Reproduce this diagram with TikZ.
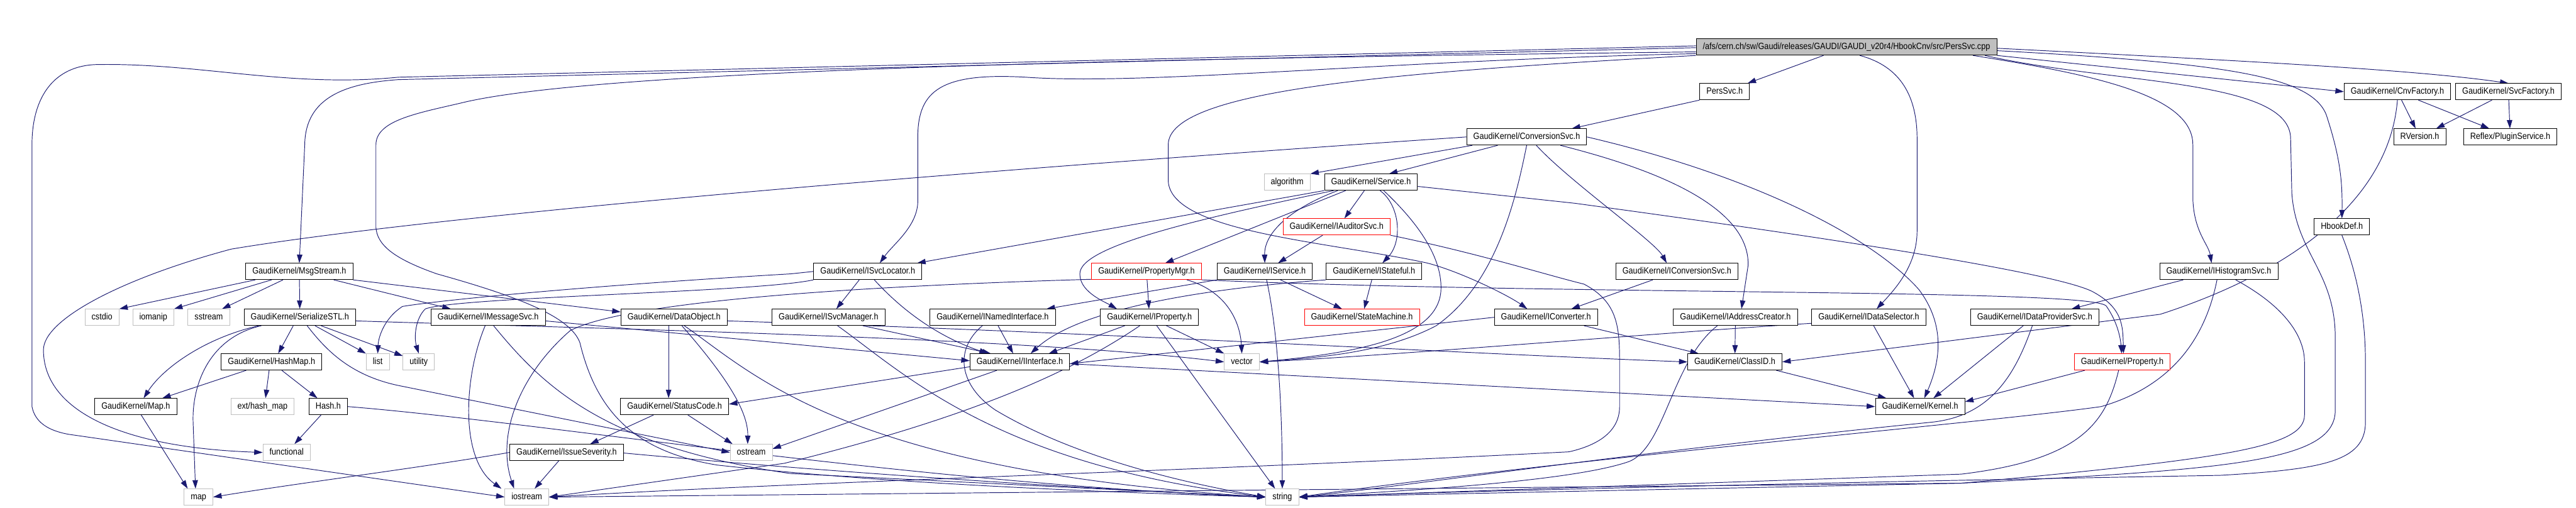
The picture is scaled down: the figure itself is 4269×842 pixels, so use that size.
\documentclass[tikz,border=0pt]{standalone}
\usepackage{fontspec}
\setmainfont[FakeStretch=0.88]{Liberation Sans}
\usetikzlibrary{arrows.meta}
\definecolor{edgeblue}{HTML}{191970}
\definecolor{sysgray}{HTML}{BFBFBF}
\definecolor{rootgray}{HTML}{BFBFBF}
\pgfdeclarelayer{edges}
\pgfsetlayers{edges,main}

\begin{document}
\begin{tikzpicture}[x=1pt, y=-1pt,
  hfile/.style={draw=black, fill=white, line width=0.9pt, minimum height=27pt, inner xsep=11pt, inner ysep=0pt,
    text height=11pt, text depth=3.2pt, font=\fontsize{15}{17}\selectfont},
  sysfile/.style={hfile, draw=sysgray},
  trunc/.style={hfile, draw=red},
  rootfile/.style={hfile, fill=rootgray},
  dep/.style={-{Triangle[length=14pt,width=9pt]}, draw=edgeblue, line width=1pt}]
\useasboundingbox (0,0) rectangle (4269,842);
% row 0
\node[rootfile] (root) at (3060,78) {/afs/cern.ch/sw/Gaudi/releases/GAUDI/GAUDI\_v20r4/HbookCnv/src/PersSvc.cpp};
% row 1
\node[hfile] (perssvch) at (2858,152) {PersSvc.h};
\node[hfile] (cnvfac) at (3973,152) {GaudiKernel/CnvFactory.h};
\node[hfile] (svcfac) at (4157,152) {GaudiKernel/SvcFactory.h};
% row 2
\node[hfile] (convsvc) at (2530,227) {GaudiKernel/ConversionSvc.h};
\node[hfile] (rversion) at (4010,227) {RVersion.h};
\node[hfile] (plugin) at (4160,227) {Reflex/PluginService.h};
% row 3
\node[sysfile] (algorithm) at (2133,302) {algorithm};
\node[hfile] (service) at (2272,302) {GaudiKernel/Service.h};
% row 4
\node[trunc] (iauditor) at (2215,376) {GaudiKernel/IAuditorSvc.h};
\node[hfile] (hbookdef) at (3881,376) {HbookDef.h};
% row 5
\node[hfile] (msgstream) at (496,450) {GaudiKernel/MsgStream.h};
\node[hfile] (isvcloc) at (1438,450) {GaudiKernel/ISvcLocator.h};
\node[trunc] (propmgr) at (1900,450) {GaudiKernel/PropertyMgr.h};
\node[hfile] (iservice) at (2096,450) {GaudiKernel/IService.h};
\node[hfile] (istateful) at (2277,450) {GaudiKernel/IStateful.h};
\node[hfile] (iconvsvc) at (2779,450) {GaudiKernel/IConversionSvc.h};
\node[hfile] (ihistsvc) at (3677,450) {GaudiKernel/IHistogramSvc.h};
% row 6
\node[sysfile] (cstdio) at (169,526) {cstdio};
\node[sysfile] (iomanip) at (254,526) {iomanip};
\node[sysfile] (sstream) at (346,526) {sstream};
\node[hfile] (serialize) at (497,526) {GaudiKernel/SerializeSTL.h};
\node[hfile] (imsgsvc) at (809,526) {GaudiKernel/IMessageSvc.h};
\node[hfile] (dataobj) at (1117,526) {GaudiKernel/DataObject.h};
\node[hfile] (isvcmgr) at (1373,526) {GaudiKernel/ISvcManager.h};
\node[hfile] (inamed) at (1645,526) {GaudiKernel/INamedInterface.h};
\node[hfile] (iproperty) at (1905,526) {GaudiKernel/IProperty.h};
\node[trunc] (statemach) at (2257,526) {GaudiKernel/StateMachine.h};
\node[hfile] (iconverter) at (2562,526) {GaudiKernel/IConverter.h};
\node[hfile] (iaddr) at (2876,526) {GaudiKernel/IAddressCreator.h};
\node[hfile] (idatasel) at (3097,526) {GaudiKernel/IDataSelector.h};
\node[hfile] (idataprov) at (3372,526) {GaudiKernel/IDataProviderSvc.h};
% row 7
\node[hfile] (hashmap) at (450,600) {GaudiKernel/HashMap.h};
\node[sysfile] (list) at (626,600) {list};
\node[sysfile] (utility) at (694,600) {utility};
\node[hfile] (iinterface) at (1690,600) {GaudiKernel/IInterface.h};
\node[sysfile] (vector) at (2058,600) {vector};
\node[hfile] (classid) at (2875,600) {GaudiKernel/ClassID.h};
\node[trunc] (property) at (3517,600) {GaudiKernel/Property.h};
% row 8
\node[hfile] (maph) at (225,674) {GaudiKernel/Map.h};
\node[sysfile] (exthash) at (435,674) {ext/hash\_map};
\node[hfile] (hash) at (544,674) {Hash.h};
\node[hfile] (statuscode) at (1118,674) {GaudiKernel/StatusCode.h};
\node[hfile] (kernel) at (3182,674) {GaudiKernel/Kernel.h};
% row 9
\node[sysfile] (functional) at (475,750) {functional};
\node[hfile] (issue) at (939,750) {GaudiKernel/IssueSeverity.h};
\node[sysfile] (ostream) at (1245,750) {ostream};
% row 10
\node[sysfile] (map) at (329,824) {map};
\node[sysfile] (iostream) at (873,824) {iostream};
\node[sysfile] (string) at (2125,824) {string};

\begin{pgfonlayer}{edges}
% root
\draw[dep] (root) -- (perssvch);
\draw[dep] ([yshift=2pt]root.west) -- (660,128) .. controls (480,146) and (330,104) .. (160,107) .. controls (90,109) and (53,160) .. (53,240) -- (53,674) .. controls (58,700) and (80,714) .. (114,720) -- (iostream.west);
\draw[dep] ([yshift=-1pt]root.west) -- (660,132) .. controls (575,138) and (506,160) .. (505,240) -- (msgstream.north);
\draw[dep] ([yshift=-8pt]root.west) .. controls (2000,96) and (1000,112) .. (763,171) .. controls (690,188) and (623,200) .. (623,240) -- (623,377) .. controls (625,405) and (650,428) .. (724,454) .. controls (860,492) and (945,525) .. (961,568) .. controls (990,690) and (1060,750) .. (1189,771) .. controls (1500,805) and (1900,818) .. (string.west);
\draw[dep] ([yshift=-11pt]root.west) .. controls (2300,100) and (1900,142) .. (1700,128) .. controls (1560,120) and (1521,150) .. (1521,227) -- (1521,333) .. controls (1521,375) and (1480,405) .. ([xshift=20pt]isvcloc.north);
\draw[dep] (root.south west) .. controls (2300,120) and (1936,150) .. (1936,240) -- (1936,300) .. controls (1940,385) and (2200,400) .. (2365,436) .. controls (2420,450) and (2500,490) .. ([xshift=-31pt]iconverter.north);
\draw[dep] ([xshift=22pt]root.south) .. controls (3150,110) and (3177,160) .. (3177,230) -- (3177,383) .. controls (3177,440) and (3140,480) .. ([xshift=13pt]idatasel.north);
\draw[dep] ([xshift=-40pt]root.south east) .. controls (3480,125) and (3634,160) .. (3634,240) -- (3634,330) .. controls (3636,385) and (3660,405) .. ([xshift=-12pt]ihistsvc.north);
\draw[dep] ([xshift=-20pt]root.south east) .. controls (3500,140) and (3796,130) .. (3796,230) -- (3798,320) .. controls (3805,420) and (3870,450) .. (3870,560) -- (3870,680) .. controls (3870,765) and (3700,778) .. (3250,801) -- (string.east);
\draw[dep] (root.south east) -- (cnvfac.west);
\draw[dep] ([yshift=-6pt]root.east) .. controls (3700,105) and (3830,128) .. (3855,190) .. controls (3878,260) and (3882,300) .. (hbookdef.north);
\draw[dep] ([yshift=-2pt]root.east) .. controls (3700,100) and (4000,115) .. (svcfac.north);
% PersSvc.h
\draw[dep] (perssvch.south west) -- ([xshift=-25pt]convsvc.north east);
% factories
\draw[dep] (cnvfac) -- (rversion);
\draw[dep] (cnvfac) -- (plugin);
\draw[dep] (svcfac) -- (rversion);
\draw[dep] (svcfac) -- (plugin);
\draw[dep] (cnvfac.south) .. controls (3960,330) and (3800,450) .. (3580,521) -- (classid.east);
% ConversionSvc.h
\draw[dep] (convsvc.west) .. controls (1500,290) and (700,360) .. (383,413) .. controls (200,462) and (72,530) .. (72,580) .. controls (72,680) and (200,742) .. (functional.west);
\draw[dep] ([xshift=-90pt]convsvc.south) -- (algorithm.north east);
\draw[dep] ([xshift=-48pt]convsvc.south) -- ([xshift=30pt]service.north);
\draw[dep] (convsvc.south) .. controls (2512,330) and (2480,470) .. (2380,540) .. controls (2300,582) and (2200,592) .. (vector.east);
\draw[dep] ([xshift=16pt]convsvc.south) .. controls (2600,300) and (2742,400) .. ([xshift=-17pt]iconvsvc.north);
\draw[dep] ([xshift=56pt]convsvc.south) .. controls (2700,270) and (2900,330) .. (2897,440) -- ([xshift=10pt]iaddr.north);
\draw[dep] (convsvc.east) .. controls (2900,290) and (3100,390) .. (3180,480) .. controls (3225,540) and (3215,600) .. ([xshift=7pt]kernel.north);
% Service.h
\draw[dep] (service.south west) -- ([xshift=-8pt]isvcloc.north east);
\draw[dep] ([xshift=-62pt]service.south) .. controls (2000,360) and (1800,405) .. (1790,450) .. controls (1785,482) and (1830,500) .. ([xshift=-54pt]iproperty.north);
\draw[dep] ([xshift=-42pt]service.south) -- ([xshift=31pt]propmgr.north);
\draw[dep] ([xshift=-11pt]service.south) -- ([xshift=13pt]iauditor.north);
\draw[dep] ([xshift=-55pt]service.south) .. controls (2140,345) and (2095,385) .. (iservice.north);
\draw[dep] ([xshift=15pt]service.south) .. controls (2320,340) and (2325,400) .. ([xshift=14pt]istateful.north);
\draw[dep] ([xshift=21pt]service.south) .. controls (2340,360) and (2390,420) .. (2388,480) .. controls (2385,560) and (2250,585) .. (vector.east);
\draw[dep] ([yshift=-7pt]service.east) -- (2610,337) .. controls (3000,390) and (3400,450) .. (3467,483) .. controls (3518,510) and (3518,540) .. ([xshift=2pt]property.north);
% IAuditorSvc.h
\draw[dep] ([xshift=-23pt]iauditor.south) -- ([xshift=22pt]iservice.north);
\draw[dep] (iauditor.south east) .. controls (2450,420) and (2560,455) .. (2625,471) .. controls (2680,500) and (2684,540) .. (2684,600) -- (2684,674) .. controls (2684,720) and (2640,740) .. (2600,749) .. controls (2000,780) and (1300,800) .. (iostream.east);
% HbookDef.h
\draw[dep] (hbookdef.south) .. controls (3905,450) and (3920,520) .. (3920,600) -- (3920,700) .. controls (3920,765) and (3850,778) .. (3679,788) .. controls (3000,800) and (2400,815) .. (string.east);
% MsgStream.h
\draw[dep] ([xshift=-73pt]msgstream.south) -- (cstdio.north east);
\draw[dep] ([xshift=-46pt]msgstream.south) -- (iomanip.north east);
\draw[dep] ([xshift=-27pt]msgstream.south) -- ([xshift=22pt]sstream.north);
\draw[dep] (msgstream) -- (serialize);
\draw[dep] ([xshift=57pt]msgstream.south) -- ([xshift=-62pt]imsgsvc.north);
\draw[dep] (msgstream.south east) -- ([yshift=-5pt]dataobj.north west);
% ISvcLocator.h
\draw[dep] ([xshift=-14pt]isvcloc.south) -- ([xshift=13pt]isvcmgr.north);
\draw[dep] ([xshift=11pt]isvcloc.south) .. controls (1500,520) and (1560,560) .. ([xshift=-53pt]iinterface.north);
\draw[dep] (isvcloc.west) -- (1310,454) .. controls (1000,472) and (740,496) .. (667,508) .. controls (636,528) and (627,560) .. (list.north);
\draw[dep] (isvcloc.south west) .. controls (1250,485) and (760,492) .. (705,512) .. controls (688,528) and (686,560) .. (utility.north);
% PropertyMgr.h
\draw[dep] (propmgr) -- (iproperty);
\draw[dep] ([xshift=67pt]propmgr.south) .. controls (2030,482) and (2055,530) .. (vector.north);
\draw[dep] ([yshift=-13pt]propmgr.west) .. controls (1500,472) and (1050,494) .. (945,548) .. controls (862,620) and (822,720) .. ([xshift=-21pt]iostream.north);
\draw[dep] (propmgr.south east) .. controls (2600,490) and (3480,478) .. (3491,508) .. controls (3509,534) and (3514,560) .. ([xshift=-1pt]property.north);
% IService.h, IStateful.h
\draw[dep] (iservice.south west) -- ([xshift=-15pt]inamed.north east);
\draw[dep] ([xshift=3pt]iservice.south) .. controls (2120,560) and (2125,700) .. (string.north);
\draw[dep] ([xshift=26pt]iservice.south) -- ([xshift=-33pt]statemach.north);
\draw[dep] (istateful) -- (statemach);
\draw[dep] (istateful.south west) .. controls (1950,482) and (1780,520) .. ([xshift=18pt]iinterface.north);
% IConversionSvc.h, IHistogramSvc.h
\draw[dep] ([xshift=-40pt]iconvsvc.south) -- ([xshift=42pt]iconverter.north);
\draw[dep] ([xshift=-59pt]ihistsvc.south) -- ([xshift=61pt]idataprov.north);
\draw[dep] ([xshift=-3pt]ihistsvc.south) .. controls (3655,560) and (3600,640) .. (3482,674) .. controls (3300,700) and (2600,760) .. (string.east);
\draw[dep] ([xshift=28pt]ihistsvc.south) .. controls (3790,510) and (3819,560) .. (3819,600) -- (3819,688) .. controls (3819,740) and (3700,760) .. (3250,801) -- (iostream.east);
% SerializeSTL.h
\draw[dep] ([xshift=-11pt]serialize.south) -- ([xshift=11pt]hashmap.north);
\draw[dep] ([xshift=-68pt]serialize.south) .. controls (340,560) and (270,610) .. ([xshift=13pt]maph.north);
\draw[dep] ([xshift=-64pt]serialize.south) .. controls (345,560) and (318,640) .. (320,700) -- ([xshift=-5pt]map.north);
\draw[dep] ([xshift=25pt]serialize.south) -- (list.north west);
\draw[dep] ([xshift=35pt]serialize.south) -- ([yshift=-4pt]utility.north west);
\draw[dep] ([xshift=12pt]serialize.south) .. controls (540,580) and (580,622) .. (660,639) -- (ostream.west);
\draw[dep] ([yshift=-6pt]serialize.east) .. controls (1000,545) and (1700,560) .. (vector.west);
% HashMap.h, Hash.h, Map.h
\draw[dep] ([xshift=-42pt]hashmap.south) -- ([xshift=44pt]maph.north);
\draw[dep] ([xshift=-4pt]hashmap.south) -- ([xshift=5pt]exthash.north);
\draw[dep] ([xshift=17pt]hashmap.south) -- ([xshift=-18pt]hash.north);
\draw[dep] ([xshift=-12pt]hash.south) -- ([xshift=13pt]functional.north);
\draw[dep] (hash.east) .. controls (900,700) and (1500,800) .. (string.west);
\draw[dep] ([xshift=9pt]maph.south) -- ([xshift=-18pt]map.north);
% IMessageSvc.h
\draw[dep] ([xshift=-5pt]imsgsvc.south) .. controls (770,620) and (760,760) .. ([xshift=-42pt]iostream.north);
\draw[dep] ([xshift=9pt]imsgsvc.south) .. controls (900,640) and (1000,740) .. (1310,785) -- (string.west);
\draw[dep] ([yshift=-6pt]imsgsvc.east) -- ([yshift=2pt]iinterface.west);
% DataObject.h, StatusCode.h, IssueSeverity.h
\draw[dep] ([xshift=-9pt]dataobj.south) -- ([xshift=-10pt]statuscode.north);
\draw[dep] ([xshift=13pt]dataobj.south) .. controls (1200,620) and (1240,680) .. ([xshift=-6pt]ostream.north);
\draw[dep] ([xshift=17pt]dataobj.south) .. controls (1250,620) and (1400,780) .. (string.west);
\draw[dep] ([yshift=-6pt]dataobj.east) .. controls (1800,550) and (2400,585) .. (classid.west);
\draw[dep] ([xshift=-35pt]statuscode.south) -- ([xshift=39pt]issue.north);
\draw[dep] ([xshift=22pt]statuscode.south) -- ([xshift=-31pt]ostream.north);
\draw[dep] ([xshift=-13pt]issue.south) -- ([xshift=13pt]iostream.north);
\draw[dep] ([yshift=-1pt]issue.east) .. controls (1400,785) and (1800,810) .. (string.west);
\draw[dep] (issue.west) .. controls (700,775) and (500,800) .. (map.east);
% IInterface.h
\draw[dep] ([yshift=-8pt]iinterface.west) -- ([yshift=4pt]statuscode.east);
\draw[dep] ([xshift=-38pt]iinterface.south) -- ([yshift=6pt]ostream.east);
\draw[dep] ([yshift=-3pt]iinterface.east) -- (kernel.west);
% ISvcManager.h, INamedInterface.h, IProperty.h
\draw[dep] ([xshift=57pt]isvcmgr.south) -- ([xshift=-48pt]iinterface.north);
\draw[dep] ([xshift=15pt]isvcmgr.south) .. controls (1500,620) and (1650,770) .. (string.west);
\draw[dep] ([xshift=9pt]inamed.south) -- ([xshift=-11pt]iinterface.north);
\draw[dep] ([xshift=-17pt]inamed.south) .. controls (1580,580) and (1590,640) .. (1650,680) .. controls (1750,740) and (1900,790) .. (string.west);
\draw[dep] ([xshift=-41pt]iproperty.south) -- ([xshift=48pt]iinterface.north);
\draw[dep] ([xshift=12pt]iproperty.south) -- ([xshift=-12pt]string.north);
\draw[dep] ([xshift=28pt]iproperty.south) -- (vector.north west);
\draw[dep] ([xshift=-16pt]iproperty.south) .. controls (1800,600) and (1650,682) .. (1300,768) -- (iostream.east);
% IConverter.h, IAddressCreator.h, IDataSelector.h, IDataProviderSvc.h
\draw[dep] (iconverter.west) -- ([yshift=-3pt]iinterface.east);
\draw[dep] ([xshift=63pt]iconverter.south) -- ([xshift=-60pt]classid.north);
\draw[dep] (iaddr) -- (classid);
\draw[dep] ([xshift=-30pt]iaddr.south) .. controls (2770,600) and (2760,740) .. (2700,765) .. controls (2600,800) and (2300,815) .. (string.east);
\draw[dep] ([xshift=8pt]idatasel.south) -- ([xshift=-10pt]kernel.north);
\draw[dep] ([yshift=-10pt]idatasel.west) .. controls (2800,548) and (2300,590) .. (vector.east);
\draw[dep] ([xshift=-19pt]idataprov.south) -- ([xshift=22pt]kernel.north);
\draw[dep] ([xshift=-4pt]idataprov.south) .. controls (3340,620) and (3300,690) .. (3200,700) .. controls (2700,750) and (2300,810) .. (string.east);
% Property.h, ClassID.h
\draw[dep] ([xshift=-62pt]property.south) -- ([yshift=8pt]kernel.east);
\draw[dep] ([xshift=-6pt]property.south) .. controls (3490,700) and (3450,762) .. (3250,786) -- (string.east);
\draw[dep] ([xshift=-10pt]classid.south east) -- ([xshift=-56pt]kernel.north);
\end{pgfonlayer}
\end{tikzpicture}
\end{document}
